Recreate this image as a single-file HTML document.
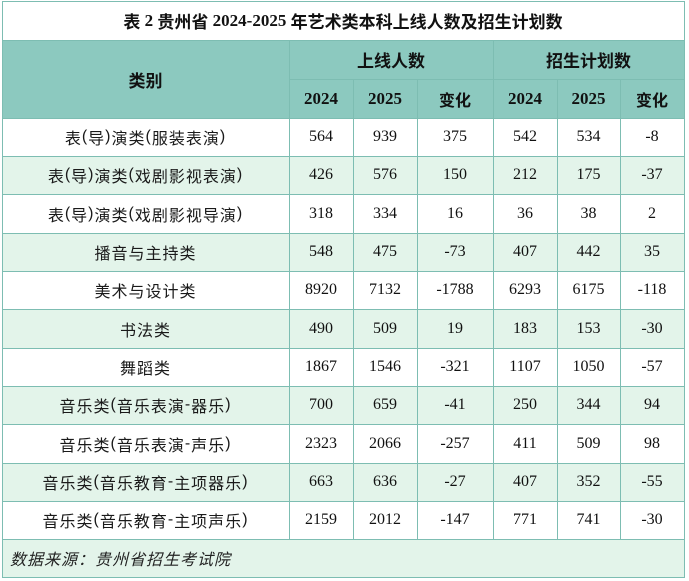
<!DOCTYPE html>
<html>
<head>
<meta charset="utf-8">
<style>
  html,body{margin:0;padding:0;background:#fff;}
  #c{position:relative;width:689px;height:581px;overflow:hidden;background:#fff;
     font-family:"Liberation Serif","Noto Sans CJK SC",serif;color:#111;}
  .bg{position:absolute;left:2px;width:682px;}
  .hl{position:absolute;height:1px;background:#7DBDB2;}
  .vl{position:absolute;width:1px;background:#7DBDB2;}
  .row{position:absolute;left:2px;width:682px;display:flex;}
  .row div{display:flex;align-items:center;justify-content:center;height:100%;font-size:16px;white-space:nowrap;}
  .row div:nth-child(1){width:287px;}
  .row div:nth-child(2){width:64px;}
  .row div:nth-child(3){width:64px;}
  .row div:nth-child(4){width:76px;}
  .row div:nth-child(5){width:64px;}
  .row div:nth-child(6){width:63px;}
  .row div:nth-child(7){width:64px;}
  .cat{font-family:"Noto Sans CJK SC","Liberation Sans",sans-serif;letter-spacing:1px;color:#1a1a1a;}
  .cat span{font-family:"Liberation Sans",sans-serif;}
  .hd{font-weight:bold;font-size:17px !important;}
  .hz{font-family:"Noto Sans CJK SC",sans-serif;font-weight:bold;font-size:17px;}
  .abs{position:absolute;display:flex;align-items:center;justify-content:center;}
</style>
</head>
<body>
<div id="c">
  <!-- backgrounds -->
  <div class="bg" style="top:40px;height:78px;background:#8CC9BF;"></div>
  <div class="bg" style="top:156px;height:38px;background:#E3F4EA;"></div>
  <div class="bg" style="top:233px;height:38px;background:#E3F4EA;"></div>
  <div class="bg" style="top:309px;height:39px;background:#E3F4EA;"></div>
  <div class="bg" style="top:386px;height:38px;background:#E3F4EA;"></div>
  <div class="bg" style="top:463px;height:38px;background:#E3F4EA;"></div>
  <div class="bg" style="top:539px;height:38px;background:#E3F4EA;"></div>

  <!-- horizontal lines -->
  <div class="hl" style="top:1px;left:2px;width:683px;"></div>
  <div class="hl" style="top:40px;left:2px;width:683px;"></div>
  <div class="hl" style="top:79px;left:289px;width:396px;"></div>
  <div class="hl" style="top:118px;left:2px;width:683px;"></div>
  <div class="hl" style="top:156px;left:2px;width:683px;"></div>
  <div class="hl" style="top:194px;left:2px;width:683px;"></div>
  <div class="hl" style="top:233px;left:2px;width:683px;"></div>
  <div class="hl" style="top:271px;left:2px;width:683px;"></div>
  <div class="hl" style="top:309px;left:2px;width:683px;"></div>
  <div class="hl" style="top:348px;left:2px;width:683px;"></div>
  <div class="hl" style="top:386px;left:2px;width:683px;"></div>
  <div class="hl" style="top:424px;left:2px;width:683px;"></div>
  <div class="hl" style="top:463px;left:2px;width:683px;"></div>
  <div class="hl" style="top:501px;left:2px;width:683px;"></div>
  <div class="hl" style="top:539px;left:2px;width:683px;"></div>
  <div class="hl" style="top:577px;left:2px;width:683px;"></div>

  <!-- vertical lines -->
  <div class="vl" style="left:2px;top:1px;height:577px;"></div>
  <div class="vl" style="left:684px;top:1px;height:577px;"></div>
  <div class="vl" style="left:289px;top:40px;height:499px;"></div>
  <div class="vl" style="left:353px;top:79px;height:460px;"></div>
  <div class="vl" style="left:417px;top:79px;height:460px;"></div>
  <div class="vl" style="left:493px;top:40px;height:499px;"></div>
  <div class="vl" style="left:557px;top:79px;height:460px;"></div>
  <div class="vl" style="left:620px;top:79px;height:460px;"></div>

  <!-- title -->
  <div class="abs" style="left:2px;top:1px;width:682px;height:39px;font-weight:bold;font-size:17px;">
    <span class="hz">表</span>&nbsp;2&nbsp;<span class="hz">贵州省</span>&nbsp;2024-2025&nbsp;<span class="hz">年艺术类本科上线人数及招生计划数</span>
  </div>

  <!-- header -->
  <div class="abs hz" style="left:2px;top:40px;width:287px;height:78px;">类别</div>
  <div class="abs hz" style="left:289px;top:40px;width:204px;height:39px;">上线人数</div>
  <div class="abs hz" style="left:493px;top:40px;width:191px;height:39px;">招生计划数</div>
  <div class="row" style="top:79px;height:39px;">
    <div></div>
    <div class="hd">2024</div><div class="hd">2025</div><div class="hz">变化</div>
    <div class="hd">2024</div><div class="hd">2025</div><div class="hz">变化</div>
  </div>

  <!-- data rows -->
  <div class="row" style="top:118px;height:38px;">
    <div class="cat">表<span>(</span>导<span>)</span>演类<span>(</span>服装表演<span>)</span></div>
    <div>564</div><div>939</div><div>375</div><div>542</div><div>534</div><div>-8</div>
  </div>
  <div class="row" style="top:156px;height:38px;">
    <div class="cat">表<span>(</span>导<span>)</span>演类<span>(</span>戏剧影视表演<span>)</span></div>
    <div>426</div><div>576</div><div>150</div><div>212</div><div>175</div><div>-37</div>
  </div>
  <div class="row" style="top:194px;height:39px;">
    <div class="cat">表<span>(</span>导<span>)</span>演类<span>(</span>戏剧影视导演<span>)</span></div>
    <div>318</div><div>334</div><div>16</div><div>36</div><div>38</div><div>2</div>
  </div>
  <div class="row" style="top:233px;height:38px;">
    <div class="cat">播音与主持类</div>
    <div>548</div><div>475</div><div>-73</div><div>407</div><div>442</div><div>35</div>
  </div>
  <div class="row" style="top:271px;height:38px;">
    <div class="cat">美术与设计类</div>
    <div>8920</div><div>7132</div><div>-1788</div><div>6293</div><div>6175</div><div>-118</div>
  </div>
  <div class="row" style="top:309px;height:39px;">
    <div class="cat">书法类</div>
    <div>490</div><div>509</div><div>19</div><div>183</div><div>153</div><div>-30</div>
  </div>
  <div class="row" style="top:348px;height:38px;">
    <div class="cat">舞蹈类</div>
    <div>1867</div><div>1546</div><div>-321</div><div>1107</div><div>1050</div><div>-57</div>
  </div>
  <div class="row" style="top:386px;height:38px;">
    <div class="cat">音乐类<span>(</span>音乐表演<span>-</span>器乐<span>)</span></div>
    <div>700</div><div>659</div><div>-41</div><div>250</div><div>344</div><div>94</div>
  </div>
  <div class="row" style="top:424px;height:39px;">
    <div class="cat">音乐类<span>(</span>音乐表演<span>-</span>声乐<span>)</span></div>
    <div>2323</div><div>2066</div><div>-257</div><div>411</div><div>509</div><div>98</div>
  </div>
  <div class="row" style="top:463px;height:38px;">
    <div class="cat">音乐类<span>(</span>音乐教育<span>-</span>主项器乐<span>)</span></div>
    <div>663</div><div>636</div><div>-27</div><div>407</div><div>352</div><div>-55</div>
  </div>
  <div class="row" style="top:501px;height:38px;">
    <div class="cat">音乐类<span>(</span>音乐教育<span>-</span>主项声乐<span>)</span></div>
    <div>2159</div><div>2012</div><div>-147</div><div>771</div><div>741</div><div>-30</div>
  </div>

  <!-- footer -->
  <div class="abs" style="left:10px;top:539px;height:38px;justify-content:flex-start;font-family:'Noto Sans CJK SC',sans-serif;font-style:italic;font-size:16px;letter-spacing:1px;color:#222;">数据来源：贵州省招生考试院</div>
</div>
</body>
</html>
